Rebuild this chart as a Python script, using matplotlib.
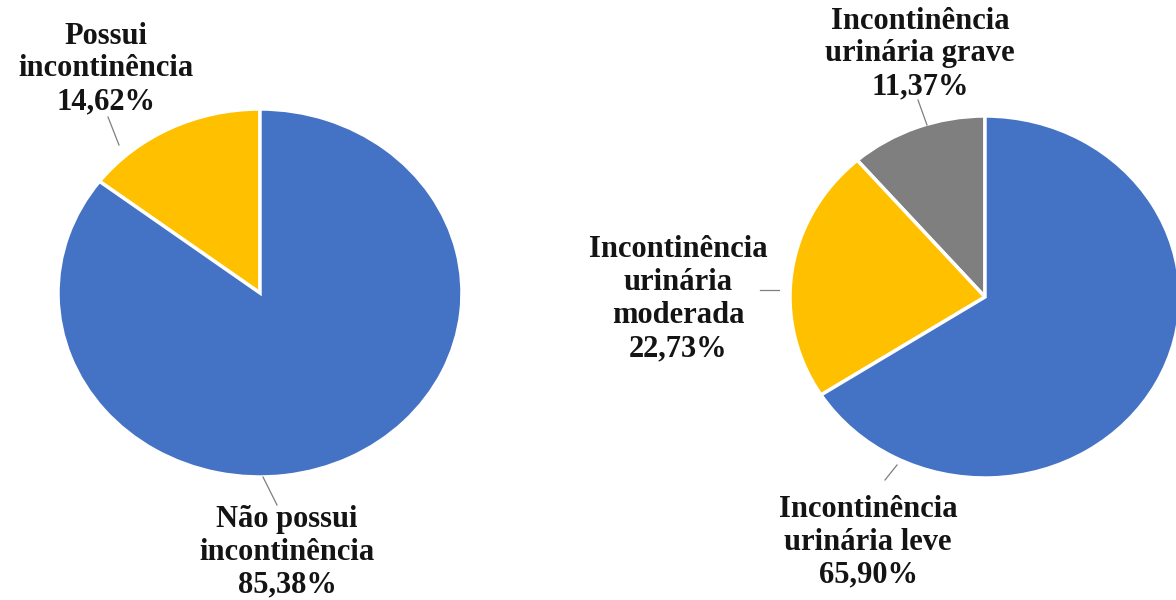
import matplotlib
matplotlib.use("Agg")
import matplotlib.pyplot as plt
from matplotlib.lines import Line2D

# dados
labels_1 = ["Possui\nincontinência", "Não possui\nincontinência"]
values_1 = [14.62, 85.38]
colors_1 = ["#FFC000", "#4472C4"]

labels_2 = ["Incontinência\nurinária grave", "Incontinência\nurinária\nmoderada",
            "Incontinência\nurinária leve"]
values_2 = [11.37, 22.73, 65.90]
colors_2 = ["#7F7F7F", "#FFC000", "#4472C4"]

W, H = 1176, 600
fig = plt.figure(figsize=(W / 100, H / 100), dpi=100)
fig.patch.set_facecolor("white")


def px_ax(cx, cy, rx, ry):
    # eixos posicionados em pixels (origem no topo)
    ax = fig.add_axes([(cx - rx) / W, 1 - (cy + ry) / H, 2 * rx / W, 2 * ry / H])
    ax.axis("off")
    return ax


def fmt(v):
    return f"{v:.2f}".replace(".", ",") + "%"


def label(x, y, text):
    fig.text(x / W, 1 - y / H, text, ha="center", va="center",
             fontsize=22, fontweight="bold", family="Liberation Serif",
             linespacing=1.18, color="#141414")


def leader(x0, y0, x1, y1):
    fig.add_artist(Line2D([x0 / W, x1 / W], [1 - y0 / H, 1 - y1 / H],
                          color="#7f7f7f", lw=0.9))


ax1 = px_ax(260, 293, 202, 184)
ax1.pie(values_1, colors=colors_1, startangle=90, counterclock=True, radius=1,
        wedgeprops=dict(edgecolor="white", linewidth=2.5), frame=False)
ax1.set_xlim(-1, 1)
ax1.set_ylim(-1, 1)
ax1.set_aspect("auto")

ax2 = px_ax(985, 297, 195, 181)
ax2.pie(values_2, colors=colors_2, startangle=90, counterclock=True, radius=1,
        wedgeprops=dict(edgecolor="white", linewidth=2.5), frame=False)
ax2.set_xlim(-1, 1)
ax2.set_ylim(-1, 1)
ax2.set_aspect("auto")

label(106, 69, labels_1[0] + "\n" + fmt(values_1[0]))
label(287, 552, labels_1[1] + "\n" + fmt(values_1[1]))
leader(108, 117, 119, 145)
leader(263, 477, 277, 505)

label(920, 54, labels_2[0] + "\n" + fmt(values_2[0]))
label(678, 299, labels_2[1] + "\n" + fmt(values_2[1]))
label(868, 542, labels_2[2] + "\n" + fmt(values_2[2]))
leader(918, 100, 927, 125)
leader(760, 290, 779, 290)
leader(885, 480, 897, 465)

fig.savefig("out.png", dpi=100, facecolor="white")
